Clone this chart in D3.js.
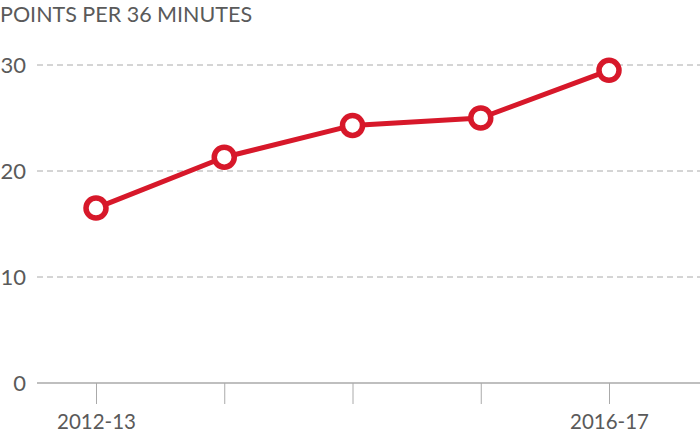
<!DOCTYPE html>
<html>
<head>
<meta charset="utf-8">
<script src="https://cdn.jsdelivr.net/npm/d3@7"></script>
<style>
  body { margin: 0; background: #fff; }
  svg text { font-family: "Lato", "Open Sans", sans-serif; fill: #5a5a5a; font-weight: 400; }
</style>
</head>
<body>
<div id="chart"></div>
<script>
const seasons = ["2012-13", "2013-14", "2014-15", "2015-16", "2016-17"];
const points = [16.5, 21.3, 24.3, 25.0, 29.5];
const yTicks = [0, 10, 20, 30];
const shownLabels = ["2012-13", "2016-17"];

const data = seasons.map((s, i) => ({ season: s, value: points[i] }));

const W = 700, H = 434;
const margin = { top: 65, right: 0, bottom: 51, left: 37 };

const svg = d3.select("#chart").append("svg")
  .attr("width", W)
  .attr("height", H);

const x = d3.scalePoint()
  .domain(seasons)
  .range([96, 609]);

const y = d3.scaleLinear()
  .domain([0, 30])
  .range([H - margin.bottom, margin.top]);

// gridlines
svg.append("g")
  .selectAll("line")
  .data(yTicks.filter(d => d > 0))
  .join("line")
  .attr("x1", margin.left)
  .attr("x2", W)
  .attr("y1", d => y(d))
  .attr("y2", d => y(d))
  .attr("stroke", "#aaa")
  .attr("stroke-width", 1)
  .attr("stroke-dasharray", "6,4");

// baseline
svg.append("line")
  .attr("x1", margin.left)
  .attr("x2", W)
  .attr("y1", y(0))
  .attr("y2", y(0))
  .attr("stroke", "#aaa")
  .attr("stroke-width", 1.5);

// y labels
svg.append("g")
  .selectAll("text")
  .data(yTicks)
  .join("text")
  .attr("x", 26)
  .attr("y", d => y(d))
  .attr("dy", "0.35em")
  .attr("text-anchor", "end")
  .attr("font-size", 22)
  .text(d => d);

// x axis ticks
const xAxis = svg.append("g")
  .attr("transform", `translate(0,${y(0)})`)
  .call(d3.axisBottom(x).tickSize(21).tickPadding(10)
    .tickFormat(d => shownLabels.includes(d) ? d : ""));
xAxis.select(".domain").remove();
xAxis.selectAll(".tick line").attr("stroke", "#aaa");
xAxis.selectAll(".tick text")
  .attr("font-size", 20.5)
  .attr("fill", "#5a5a5a")
  .style("font-family", "Lato, 'Open Sans', sans-serif");

// title
svg.append("text")
  .attr("x", 0)
  .attr("y", 22)
  .attr("font-size", 21.5)
  .text("POINTS PER 36 MINUTES");

const line = d3.line()
  .x(d => x(d.season))
  .y(d => y(d.value));

svg.append("path")
  .datum(data)
  .attr("fill", "none")
  .attr("stroke", "#d7182a")
  .attr("stroke-width", 5)
  .attr("stroke-linejoin", "round")
  .attr("d", line);

svg.append("g")
  .selectAll("circle")
  .data(data)
  .join("circle")
  .attr("cx", d => x(d.season))
  .attr("cy", d => y(d.value))
  .attr("r", 10)
  .attr("fill", "#fff")
  .attr("stroke", "#d7182a")
  .attr("stroke-width", 5.5);
</script>
</body>
</html>
